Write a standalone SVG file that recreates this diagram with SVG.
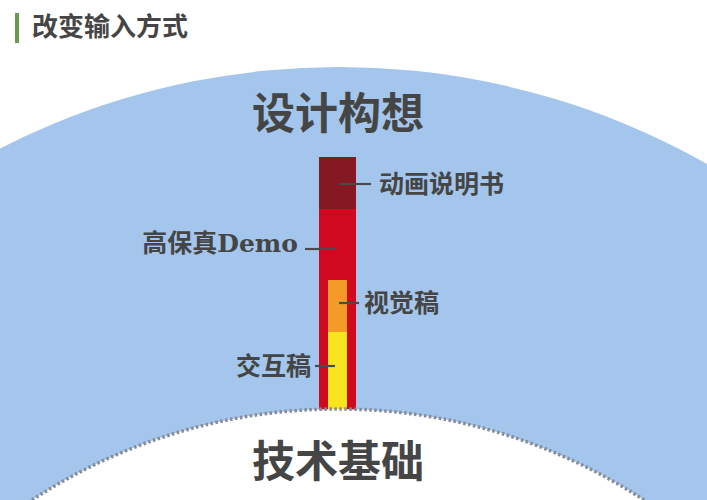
<svg xmlns="http://www.w3.org/2000/svg" width="707" height="500" viewBox="0 0 707 500">
<style>
.t{font-family:"DejaVu Serif","Noto Sans CJK SC",serif;font-weight:bold;fill:#454545}
.lbl{font-size:25px}
.big{font-size:43px;text-anchor:middle}
.lead{stroke:#4a4a4a;stroke-width:2.2;fill:none}
</style>
<rect width="707" height="500" fill="#ffffff"/>
<g id="header">
<rect x="15" y="13" width="4" height="30" fill="#6b9a4c"/>
<text class="t" x="32" y="36" font-size="26">改变输入方式</text>
</g>
<g id="design-sphere">
<circle cx="339" cy="813" r="746" fill="#a4c6ec"/>
<text class="t big" x="338" y="129">设计构想</text>
</g>
<g id="bar">
<rect x="319" y="157" width="37" height="52" fill="#851822"/>
<rect x="319" y="209" width="37" height="205" fill="#cf0a1f"/>
<rect x="328" y="280" width="19" height="52" fill="#f39a28"/>
<rect x="328" y="332" width="19" height="82" fill="#f9e420"/>
</g>
<g id="tech-base">
<circle cx="338" cy="969" r="560" fill="#ffffff" stroke="#868b95" stroke-width="3.5" stroke-dasharray="2.5 2.5"/>
<text class="t big" x="338" y="477">技术基础</text>
</g>
<g id="connectors">
<line class="lead" x1="339" y1="184" x2="371" y2="184"/>
<line class="lead" x1="305" y1="249" x2="336" y2="249"/>
<line class="lead" x1="339" y1="303" x2="359" y2="303"/>
<line class="lead" x1="315" y1="366" x2="335" y2="366"/>
</g>
<g id="label-animation"><text class="t lbl" x="379" y="193">动画说明书</text></g>
<g id="label-hifi"><text class="t lbl" x="298" y="252" text-anchor="end">高保真Demo</text></g>
<g id="label-visual"><text class="t lbl" x="364" y="312">视觉稿</text></g>
<g id="label-interaction"><text class="t lbl" x="311" y="375" text-anchor="end">交互稿</text></g>
</svg>
